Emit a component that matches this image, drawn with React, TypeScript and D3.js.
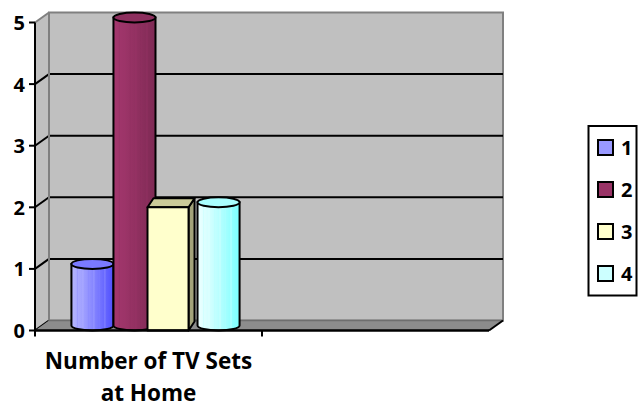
import React from "react";
import * as d3 from "d3";

// Chart data
const categories = ["Number of TV Sets\nat Home", ""];
const seriesNames = ["1", "2", "3", "4"];
const seriesValues = [1, 5, 2, 2];
const seriesShapes = ["cylinder", "cylinder", "box", "cylinder"];
const seriesColors = ["#9999ff", "#993366", "#ffffcc", "#ccffff"];
const yTicks = [0, 1, 2, 3, 4, 5];

const W = 638;
const H = 408;
const FONT = "'Open Sans', Lato, sans-serif";

// Plot geometry (front plane + depth offset)
const frontLeft = 35;
const frontRight = 489;
const depthX = 14;
const depthY = -10;

const y = d3.scaleLinear().domain([0, 5]).range([330.5, 22.5]);
const xCat = d3.scaleBand<string>().domain(categories).range([frontLeft, frontRight]).padding(0);
const xSeries = d3
  .scaleBand<string>()
  .domain(seriesNames)
  .range([xCat(categories[0])! + depthX / 2, xCat(categories[0])! + xCat.bandwidth() + depthX / 2])
  .paddingInner(0)
  .paddingOuter(0.7);

function shade(c: string, k: number) {
  const col = d3.hsl(c);
  return k >= 0 ? col.brighter(k).formatHex() : col.darker(-k).formatHex();
}

const Cylinder: React.FC<{ i: number }> = ({ i }) => {
  const x0 = xSeries(seriesNames[i])!;
  const w = xSeries.bandwidth();
  const rx = w / 2;
  const ry = 5;
  const cx = x0 + rx;
  const top = y(seriesValues[i]) + depthY / 2;
  const bottom = y(0) + depthY / 2;
  const body = `M${x0},${top} L${x0},${bottom} A${rx},${ry} 0 0 0 ${x0 + w},${bottom} L${x0 + w},${top} Z`;
  const c = seriesColors[i];
  const streaks = d3.range(6, w - 4, 5.5);
  return (
    <g>
      <path d={body} fill={`url(#grad${i})`} stroke="none" />
      {streaks.map((s, k) => (
        <line
          key={k}
          x1={x0 + s}
          x2={x0 + s}
          y1={top}
          y2={bottom + ry * Math.sqrt(Math.max(0, 1 - ((s - rx) / rx) ** 2))}
          stroke={k % 2 ? shade(c, 0.25) : shade(c, -0.15)}
          strokeOpacity={0.35}
          strokeWidth={1}
        />
      ))}
      <path d={body} fill="none" stroke="#000" strokeWidth={2} />
      <ellipse cx={cx} cy={top} rx={rx} ry={ry} fill={shade(c, -0.22)} stroke="#000" strokeWidth={2} />
    </g>
  );
};

const Box: React.FC<{ i: number }> = ({ i }) => {
  const w = xSeries.bandwidth() - 1;
  const x0 = xSeries(seriesNames[i])! - 8;
  const dx = 6;
  const dy = -9;
  const top = y(seriesValues[i]);
  const bottom = y(0);
  const c = seriesColors[i];
  const topFace = `M${x0},${top} L${x0 + dx},${top + dy} L${x0 + w + dx},${top + dy} L${x0 + w},${top} Z`;
  const side = `M${x0 + w},${top} L${x0 + w + dx},${top + dy} L${x0 + w + dx},${bottom + dy} L${x0 + w},${bottom} Z`;
  return (
    <g stroke="#000" strokeWidth={2} strokeLinejoin="round">
      <path d={side} fill="#a3a37a" />
      <path d={topFace} fill="#cccc99" />
      <rect x={x0} y={top} width={w} height={bottom - top} fill={c} />
    </g>
  );
};

export default function App() {
  const backL = frontLeft + depthX;
  const backR = frontRight + depthX;
  const y0 = y(0);
  const yTop = y(5);
  const catCenter = xCat(categories[0])! + xCat.bandwidth() / 2;
  const legendY = d3.scaleBand<string>().domain(seriesNames).range([126.5, 294.5]);

  return (
    <svg
      width={W}
      height={H}
      viewBox={`0 0 ${W} ${H}`}
      style={{ position: "absolute", left: 0, top: 0, background: "#fff" }}
      fontFamily={FONT}
    >
      <defs>
        {seriesColors.map((c, i) => (
          <linearGradient key={i} id={`grad${i}`} x1="0" x2="1" y1="0" y2="0">
            <stop offset="0" stopColor={shade(c, 0.2)} />
            <stop offset="0.35" stopColor={c} />
            <stop offset="1" stopColor={shade(c, -0.55)} />
          </linearGradient>
        ))}
      </defs>

      {/* side wall */}
      <polygon
        points={`${frontLeft},${yTop} ${backL},${yTop + depthY} ${backL},${y0 + depthY} ${frontLeft},${y0}`}
        fill="#c0c0c0"
      />
      {/* back wall */}
      <rect x={backL} y={yTop + depthY} width={backR - backL} height={y0 - yTop} fill="#c0c0c0" stroke="#808080" strokeWidth={2} />

      {/* gridlines on back wall and their side-wall continuations */}
      {yTicks.map((t) => (
        <g key={t}>
          {t > 0 && t < 5 && (
            <line x1={backL} x2={backR} y1={y(t) + depthY} y2={y(t) + depthY} stroke="#000" strokeWidth={2} />
          )}
          <line
            x1={frontLeft}
            x2={backL}
            y1={y(t)}
            y2={y(t) + depthY}
            stroke={t === 5 ? "#808080" : "#000"}
            strokeWidth={2}
          />
        </g>
      ))}
      <line x1={backL} x2={backL} y1={yTop + depthY} y2={y0 + depthY} stroke="#808080" strokeWidth={2} />

      {/* floor */}
      <polygon
        points={`${frontLeft},${y0} ${backL},${y0 + depthY} ${backR},${y0 + depthY} ${frontRight},${y0}`}
        fill="#8c8c8c"
      />
      <line x1={backL} x2={backR} y1={y0 + depthY} y2={y0 + depthY} stroke="#6e6e6e" strokeWidth={1.5} />
      <line x1={frontRight} x2={backR} y1={y0} y2={y0 + depthY} stroke="#000" strokeWidth={2} />

      {/* series */}
      {seriesShapes.map((s, i) => (s === "box" ? <Box key={i} i={i} /> : <Cylinder key={i} i={i} />))}

      {/* axes */}
      <line x1={frontLeft} x2={frontLeft} y1={yTop} y2={y0} stroke="#000" strokeWidth={2} />
      <line x1={frontLeft - 1} x2={frontRight} y1={y0} y2={y0} stroke="#000" strokeWidth={2.5} />
      {yTicks.map((t) => (
        <g key={t}>
          <line x1={frontLeft - 6} x2={frontLeft} y1={y(t)} y2={y(t)} stroke="#000" strokeWidth={2} />
          <text x={25} y={y(t) + 7.5} textAnchor="end" fontSize={20} fontWeight={700} fill="#000">
            {t}
          </text>
        </g>
      ))}
      {categories.map((c, k) => (
        <line key={k} x1={xCat(c)!} x2={xCat(c)!} y1={y0} y2={y0 + 6} stroke="#000" strokeWidth={2} />
      ))}
      {categories[0].split("\n").map((line, k) => (
        <text key={k} x={catCenter} y={369 + k * 32} textAnchor="middle" fontSize={22.5} fontWeight={700} fill="#000">
          {line}
        </text>
      ))}

      {/* legend */}
      <rect x={588.5} y={126} width={48} height={169.5} fill="#fff" stroke="#000" strokeWidth={2} />
      {seriesNames.map((n, i) => {
        const cy = legendY(n)! + legendY.bandwidth() / 2;
        return (
          <g key={n}>
            <rect x={598} y={cy - 7.5} width={15} height={15} fill={seriesColors[i]} stroke="#000" strokeWidth={2} />
            <text x={621} y={cy + 7.5} fontSize={20} fontWeight={700} fill="#000">
              {n}
            </text>
          </g>
        );
      })}
    </svg>
  );
}
